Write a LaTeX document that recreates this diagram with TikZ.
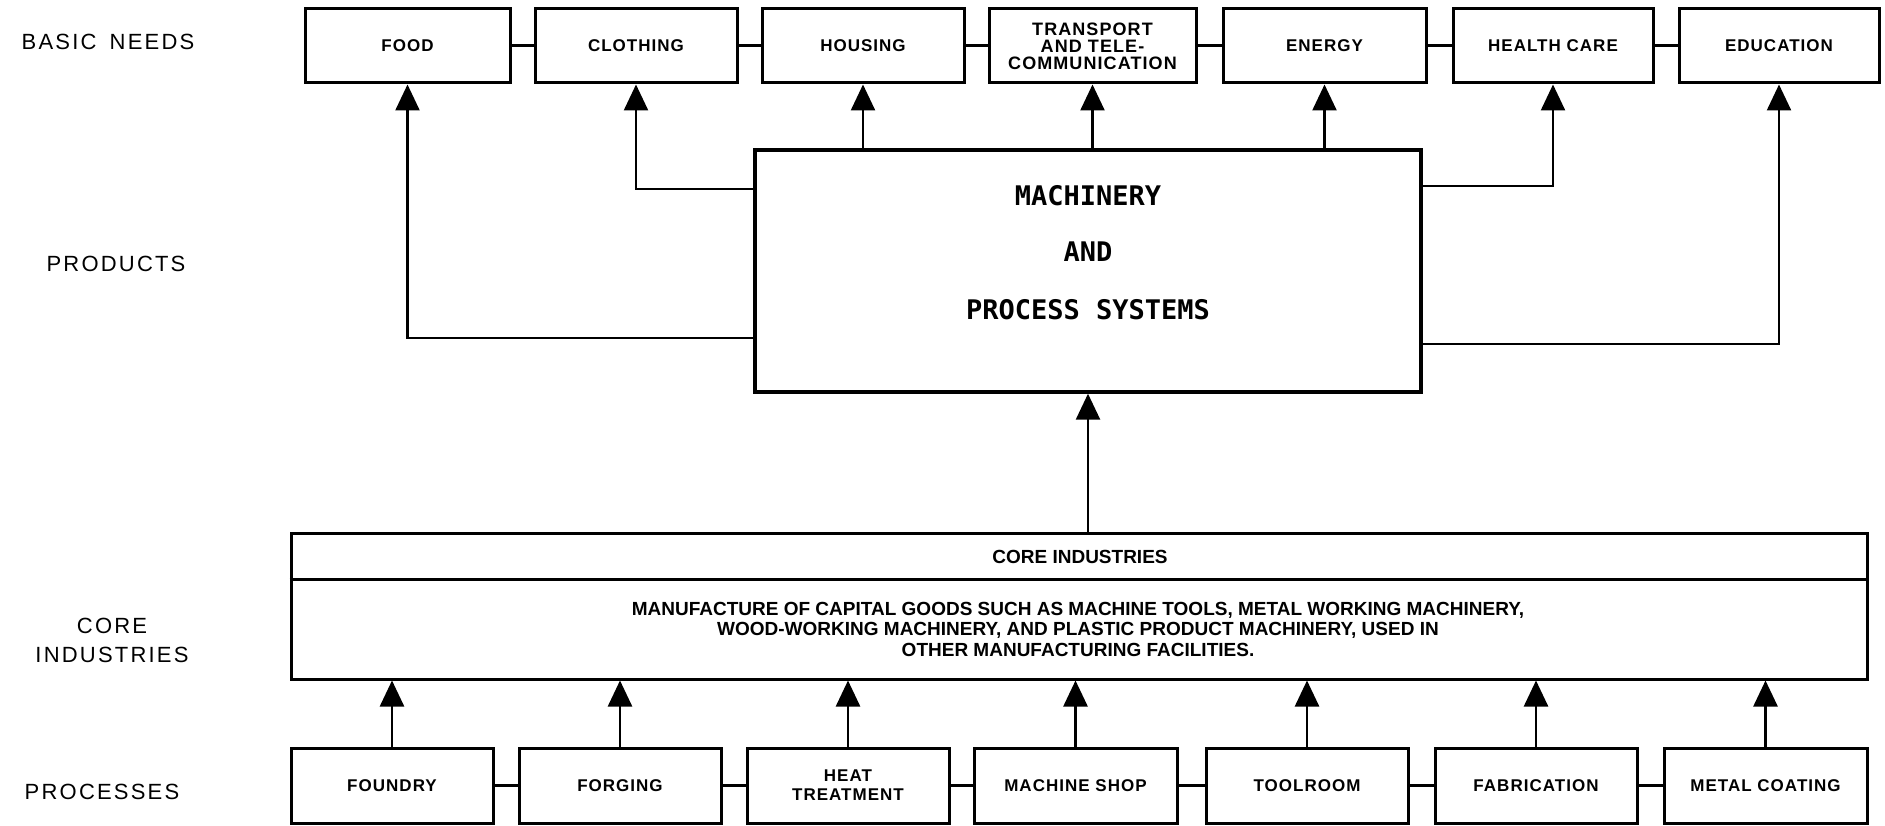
\documentclass[tikz,border=0pt]{standalone}
\usepackage{fontspec}
\setmainfont{Liberation Sans}
\newfontfamily\monofont{DejaVu Sans Mono}
\newfontfamily\rowfont[LetterSpace=10]{Liberation Sans}
\newfontfamily\boxfont[LetterSpace=6]{Liberation Sans}
\usetikzlibrary{arrows.meta}
\tikzset{
  box/.style={draw, line width=3pt, minimum width=202pt, minimum height=74pt, inner sep=0pt,
    font=\boxfont\bfseries\fontsize{17}{19}\selectfont, align=center},
  conn/.style={line width=3pt},
  arr/.style={line width=2.5pt, -{Triangle[width=24pt,length=26pt]}},
  rowlabel/.style={font=\rowfont\fontsize{22}{29}\selectfont, align=center, inner sep=0pt},
  machtext/.style={font=\monofont\bfseries\fontsize{27}{30}\selectfont, inner sep=0pt},
  coretext/.style={font=\bfseries\fontsize{19}{20.5}\selectfont, align=center, inner sep=0pt},
}
\begin{document}
\begin{tikzpicture}[x=1pt,y=-1pt]
\useasboundingbox (0,0) rectangle (1885,826);

% row labels
\node[rowlabel] (lbasic) at (108,42) {BASIC\hspace{0.6em}NEEDS};
\node[rowlabel] (lprod) at (116,264) {PRODUCTS};
\node[rowlabel] (lcore) at (112,640) {CORE\\INDUSTRIES};
\node[rowlabel] (lproc) at (102,792) {PROCESSES};

% basic needs
\node[box, minimum width=205pt] (food) at (407.5,46) {FOOD};
\node[box] (clothing) at (636,46) {CLOTHING};
\node[box] (housing) at (863,46) {HOUSING};
\node[box, minimum width=207pt, font=\boxfont\bfseries\fontsize{18}{17}\selectfont] (transport) at (1092.5,46) {TRANSPORT\\AND TELE-\\COMMUNICATION};
\node[box, minimum width=203pt] (energy) at (1324.5,46) {ENERGY};
\node[box, minimum width=200pt] (health) at (1553,46) {HEALTH CARE};
\node[box, minimum width=200pt] (education) at (1779,46) {EDUCATION};
\draw[conn] (food) -- (clothing);
\draw[conn] (clothing) -- (housing);
\draw[conn] (housing) -- (transport);
\draw[conn] (transport) -- (energy);
\draw[conn] (energy) -- (health);
\draw[conn] (health) -- (education);

% machinery
\node[draw, line width=3.4pt, minimum width=666pt, minimum height=242pt] (mach) at (1088,271) {};
\node[machtext] (m1) at (1088,196) {MACHINERY};
\node[machtext] (m2) at (1088,252) {AND};
\node[machtext] (m3) at (1088,310) {PROCESS SYSTEMS};

\draw[arr] ([yshift=-67pt]mach.west) -| (food.south);
\draw[arr] ([yshift=82pt]mach.west) -| (clothing.south);
\draw[arr] (housing.south |- mach.north) -- (housing.south);
\draw[arr] (transport.south |- mach.north) -- (transport.south);
\draw[arr] (energy.south |- mach.north) -- (energy.south);
\draw[arr] ([yshift=85pt]mach.east) -| (health.south);
\draw[arr] ([yshift=-73pt]mach.east) -| (education.south);

% core industries
\node[draw, line width=3pt, minimum width=1576pt, minimum height=146pt] (core) at (1079,606) {};
\draw[conn] ([yshift=-48pt]core.north west) -- ([yshift=-48pt]core.north east);
\node[coretext] (ctitle) at (1080,557) {CORE INDUSTRIES};
\node[coretext] (cdesc) at (1078,629) {MANUFACTURE OF CAPITAL GOODS SUCH AS MACHINE TOOLS, METAL WORKING MACHINERY,\\
WOOD-WORKING MACHINERY, AND PLASTIC PRODUCT MACHINERY, USED IN\\
OTHER MANUFACTURING FACILITIES.};
\draw[arr] (mach.south |- core.north) -- (mach.south);

% processes
\node[box, minimum height=75pt] (foundry) at (392,785.5) {FOUNDRY};
\node[box, minimum height=75pt] (forging) at (620,785.5) {FORGING};
\node[box, minimum height=75pt] (heat) at (848,785.5) {HEAT\\TREATMENT};
\node[box, minimum height=75pt, minimum width=203pt] (mshop) at (1075.5,785.5) {MACHINE SHOP};
\node[box, minimum height=75pt] (toolroom) at (1307,785.5) {TOOLROOM};
\node[box, minimum height=75pt] (fabrication) at (1536,785.5) {FABRICATION};
\node[box, minimum height=75pt, minimum width=203pt] (coating) at (1765.5,785.5) {METAL COATING};
\draw[conn] (foundry) -- (forging);
\draw[conn] (forging) -- (heat);
\draw[conn] (heat) -- (mshop);
\draw[conn] (mshop) -- (toolroom);
\draw[conn] (toolroom) -- (fabrication);
\draw[conn] (fabrication) -- (coating);
\foreach \n in {foundry,forging,heat,mshop,toolroom,fabrication,coating}
  \draw[arr] (\n.north) -- (\n.north |- core.south);
\end{tikzpicture}
\end{document}
